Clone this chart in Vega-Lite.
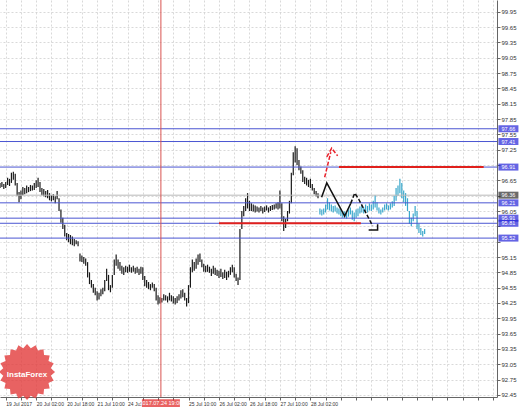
{
  "$schema": "https://vega.github.io/schema/vega-lite/v6.json",
  "width": 497,
  "height": 397,
  "autosize": "none",
  "padding": {"left": 0, "top": 0, "right": 22, "bottom": 10},
  "background": "white",
  "config": {
    "view": {"stroke": null},
    "font": "Liberation Sans",
    "axis": {"title": null, "labelOverlap": false, "labelBound": false, "labelFlush": false, "labelFont": "Liberation Sans", "labelFontSize": 6, "labelColor": "#333", "labelPadding": 1,
      "ticks": true, "tickSize": 3, "tickColor": "#666", "domainColor": "#666",
      "grid": true, "gridColor": "#cfcfcf", "gridDash": [2, 2], "gridWidth": 0.8}
  },
  "resolve": {"axis": {"x": "independent", "y": "independent"}},
  "datasets": {
    "bars": [
      {"i":0,"hi":96.60,"lo":96.50,"s":"h"},{"i":1,"hi":96.62,"lo":96.52,"s":"h"},{"i":2,"hi":96.58,"lo":96.48,"s":"h"},{"i":3,"hi":96.62,"lo":96.50,"s":"h"},{"i":4,"hi":96.70,"lo":96.56,"s":"h"},{"i":5,"hi":96.68,"lo":96.54,"s":"h"},{"i":6,"hi":96.80,"lo":96.60,"s":"h"},{"i":7,"hi":96.82,"lo":96.66,"s":"h"},{"i":8,"hi":96.78,"lo":96.55,"s":"h"},{"i":9,"hi":96.60,"lo":96.35,"s":"h"},
      {"i":10,"hi":96.42,"lo":96.22,"s":"h"},{"i":11,"hi":96.45,"lo":96.28,"s":"h"},{"i":12,"hi":96.52,"lo":96.36,"s":"h"},{"i":13,"hi":96.50,"lo":96.38,"s":"h"},{"i":14,"hi":96.55,"lo":96.40,"s":"h"},{"i":15,"hi":96.52,"lo":96.42,"s":"h"},{"i":16,"hi":96.56,"lo":96.44,"s":"h"},{"i":17,"hi":96.55,"lo":96.45,"s":"h"},{"i":18,"hi":96.60,"lo":96.46,"s":"h"},{"i":19,"hi":96.65,"lo":96.50,"s":"h"},
      {"i":20,"hi":96.70,"lo":96.52,"s":"h"},{"i":21,"hi":96.62,"lo":96.42,"s":"h"},{"i":22,"hi":96.50,"lo":96.36,"s":"h"},{"i":23,"hi":96.48,"lo":96.34,"s":"h"},{"i":24,"hi":96.44,"lo":96.32,"s":"h"},{"i":25,"hi":96.46,"lo":96.30,"s":"h"},{"i":26,"hi":96.40,"lo":96.26,"s":"h"},{"i":27,"hi":96.36,"lo":96.24,"s":"h"},{"i":28,"hi":96.38,"lo":96.26,"s":"h"},{"i":29,"hi":96.34,"lo":96.20,"s":"h"},
      {"i":30,"hi":96.44,"lo":96.28,"s":"h"},{"i":31,"hi":96.30,"lo":96.05,"s":"h"},{"i":32,"hi":96.08,"lo":95.82,"s":"h"},{"i":33,"hi":95.92,"lo":95.70,"s":"h"},{"i":34,"hi":95.78,"lo":95.55,"s":"h"},{"i":35,"hi":95.62,"lo":95.48,"s":"h"},{"i":36,"hi":95.60,"lo":95.44,"s":"h"},{"i":37,"hi":95.58,"lo":95.40,"s":"h"},{"i":38,"hi":95.55,"lo":95.38,"s":"h"},{"i":39,"hi":95.50,"lo":95.36,"s":"h"},
      {"i":40,"hi":95.48,"lo":95.40,"s":"h"},{"i":41,"hi":95.46,"lo":95.36,"s":"h"},{"i":42,"hi":95.22,"lo":95.06,"s":"h"},{"i":43,"hi":95.18,"lo":95.05,"s":"h"},{"i":44,"hi":95.15,"lo":95.02,"s":"h"},{"i":45,"hi":95.12,"lo":94.98,"s":"h"},{"i":46,"hi":95.05,"lo":94.75,"s":"h"},{"i":47,"hi":94.85,"lo":94.62,"s":"h"},{"i":48,"hi":94.70,"lo":94.55,"s":"h"},{"i":49,"hi":94.62,"lo":94.45,"s":"h"},
      {"i":50,"hi":94.55,"lo":94.40,"s":"h"},{"i":51,"hi":94.48,"lo":94.30,"s":"h"},{"i":52,"hi":94.45,"lo":94.32,"s":"h"},{"i":53,"hi":94.52,"lo":94.38,"s":"h"},{"i":54,"hi":94.55,"lo":94.42,"s":"h"},{"i":55,"hi":94.70,"lo":94.48,"s":"h"},{"i":56,"hi":94.92,"lo":94.68,"s":"h"},{"i":57,"hi":94.80,"lo":94.50,"s":"h"},{"i":58,"hi":94.60,"lo":94.46,"s":"h"},{"i":59,"hi":94.80,"lo":94.55,"s":"h"},
      {"i":60,"hi":95.10,"lo":94.80,"s":"h"},{"i":61,"hi":95.20,"lo":94.98,"s":"h"},{"i":62,"hi":95.10,"lo":94.92,"s":"h"},{"i":63,"hi":95.05,"lo":94.88,"s":"h"},{"i":64,"hi":94.98,"lo":94.82,"s":"h"},{"i":65,"hi":94.95,"lo":94.80,"s":"h"},{"i":66,"hi":94.98,"lo":94.85,"s":"h"},{"i":67,"hi":94.96,"lo":94.84,"s":"h"},{"i":68,"hi":95.00,"lo":94.86,"s":"h"},{"i":69,"hi":94.95,"lo":94.84,"s":"h"},
      {"i":70,"hi":94.98,"lo":94.86,"s":"h"},{"i":71,"hi":94.94,"lo":94.82,"s":"h"},{"i":72,"hi":94.96,"lo":94.84,"s":"h"},{"i":73,"hi":94.92,"lo":94.80,"s":"h"},{"i":74,"hi":94.96,"lo":94.82,"s":"h"},{"i":75,"hi":94.95,"lo":94.70,"s":"h"},{"i":76,"hi":94.78,"lo":94.58,"s":"h"},{"i":77,"hi":94.70,"lo":94.55,"s":"h"},{"i":78,"hi":94.66,"lo":94.52,"s":"h"},{"i":79,"hi":94.62,"lo":94.50,"s":"h"},
      {"i":80,"hi":94.65,"lo":94.55,"s":"h"},{"i":81,"hi":94.62,"lo":94.48,"s":"h"},{"i":82,"hi":94.55,"lo":94.30,"s":"h"},{"i":83,"hi":94.40,"lo":94.22,"s":"h"},{"i":84,"hi":94.36,"lo":94.24,"s":"h"},{"i":85,"hi":94.35,"lo":94.26,"s":"h"},{"i":86,"hi":94.42,"lo":94.30,"s":"h"},{"i":87,"hi":94.40,"lo":94.30,"s":"h"},{"i":88,"hi":94.38,"lo":94.26,"s":"h"},{"i":89,"hi":94.45,"lo":94.30,"s":"h"},
      {"i":90,"hi":94.40,"lo":94.28,"s":"h"},{"i":91,"hi":94.38,"lo":94.24,"s":"h"},{"i":92,"hi":94.35,"lo":94.22,"s":"h"},{"i":93,"hi":94.38,"lo":94.25,"s":"h"},{"i":94,"hi":94.42,"lo":94.30,"s":"h"},{"i":95,"hi":94.50,"lo":94.34,"s":"h"},{"i":96,"hi":94.52,"lo":94.36,"s":"h"},{"i":97,"hi":94.45,"lo":94.30,"s":"h"},{"i":98,"hi":94.35,"lo":94.18,"s":"h"},{"i":99,"hi":94.60,"lo":94.25,"s":"h"},
      {"i":100,"hi":94.95,"lo":94.55,"s":"h"},{"i":101,"hi":95.10,"lo":94.85,"s":"h"},{"i":102,"hi":95.05,"lo":94.88,"s":"h"},{"i":103,"hi":95.12,"lo":94.92,"s":"h"},{"i":104,"hi":95.20,"lo":95.00,"s":"h"},{"i":105,"hi":95.22,"lo":95.05,"s":"h"},{"i":106,"hi":95.10,"lo":94.95,"s":"h"},{"i":107,"hi":95.02,"lo":94.86,"s":"h"},{"i":108,"hi":94.98,"lo":94.85,"s":"h"},{"i":109,"hi":95.00,"lo":94.86,"s":"h"},
      {"i":110,"hi":94.96,"lo":94.84,"s":"h"},{"i":111,"hi":94.92,"lo":94.78,"s":"h"},{"i":112,"hi":94.98,"lo":94.82,"s":"h"},{"i":113,"hi":94.94,"lo":94.80,"s":"h"},{"i":114,"hi":94.90,"lo":94.78,"s":"h"},{"i":115,"hi":94.88,"lo":94.74,"s":"h"},{"i":116,"hi":94.92,"lo":94.76,"s":"h"},{"i":117,"hi":94.85,"lo":94.72,"s":"h"},{"i":118,"hi":94.90,"lo":94.74,"s":"h"},{"i":119,"hi":94.86,"lo":94.70,"s":"h"},
      {"i":120,"hi":94.88,"lo":94.75,"s":"h"},{"i":121,"hi":94.95,"lo":94.80,"s":"h"},{"i":122,"hi":95.00,"lo":94.85,"s":"h"},{"i":123,"hi":94.95,"lo":94.75,"s":"h"},{"i":124,"hi":94.82,"lo":94.68,"s":"h"},{"i":125,"hi":94.75,"lo":94.60,"s":"h"},{"i":126,"hi":95.70,"lo":94.70,"s":"h"},{"i":127,"hi":96.05,"lo":95.70,"s":"h"},{"i":128,"hi":96.15,"lo":95.95,"s":"h"},{"i":129,"hi":96.30,"lo":96.05,"s":"h"},
      {"i":130,"hi":96.40,"lo":96.10,"s":"h"},{"i":131,"hi":96.25,"lo":96.05,"s":"h"},{"i":132,"hi":96.20,"lo":96.05,"s":"h"},{"i":133,"hi":96.18,"lo":96.04,"s":"h"},{"i":134,"hi":96.16,"lo":96.02,"s":"h"},{"i":135,"hi":96.14,"lo":96.04,"s":"h"},{"i":136,"hi":96.12,"lo":96.02,"s":"h"},{"i":137,"hi":96.15,"lo":96.05,"s":"h"},{"i":138,"hi":96.12,"lo":96.00,"s":"h"},{"i":139,"hi":96.14,"lo":96.03,"s":"h"},
      {"i":140,"hi":96.16,"lo":96.06,"s":"h"},{"i":141,"hi":96.12,"lo":96.02,"s":"h"},{"i":142,"hi":96.15,"lo":96.05,"s":"h"},{"i":143,"hi":96.17,"lo":96.07,"s":"h"},{"i":144,"hi":96.18,"lo":96.08,"s":"h"},{"i":145,"hi":96.20,"lo":96.10,"s":"h"},{"i":146,"hi":96.22,"lo":96.08,"s":"h"},{"i":147,"hi":96.45,"lo":96.10,"s":"h"},{"i":148,"hi":96.20,"lo":95.85,"s":"h"},{"i":149,"hi":95.95,"lo":95.66,"s":"h"},
      {"i":150,"hi":95.90,"lo":95.72,"s":"h"},{"i":151,"hi":96.05,"lo":95.85,"s":"h"},{"i":152,"hi":96.25,"lo":96.00,"s":"h"},{"i":153,"hi":96.80,"lo":96.20,"s":"h"},{"i":154,"hi":97.20,"lo":96.75,"s":"h"},{"i":155,"hi":97.32,"lo":97.00,"s":"h"},{"i":156,"hi":97.28,"lo":96.95,"s":"h"},{"i":157,"hi":97.05,"lo":96.85,"s":"h"},{"i":158,"hi":96.92,"lo":96.78,"s":"h"},{"i":159,"hi":96.85,"lo":96.62,"s":"h"},
      {"i":160,"hi":96.72,"lo":96.58,"s":"h"},{"i":161,"hi":96.70,"lo":96.55,"s":"h"},{"i":162,"hi":96.66,"lo":96.52,"s":"h"},{"i":163,"hi":96.68,"lo":96.50,"s":"h"},{"i":164,"hi":96.58,"lo":96.45,"s":"h"},{"i":165,"hi":96.50,"lo":96.38,"s":"h"},{"i":166,"hi":96.44,"lo":96.34,"s":"h"},{"i":167,"hi":96.40,"lo":96.30,"s":"h"},
      {"i":168,"hi":96.10,"lo":95.98,"s":"p"},{"i":169,"hi":96.08,"lo":95.96,"s":"p"},
      {"i":170,"hi":96.10,"lo":95.98,"s":"p"},{"i":171,"hi":96.18,"lo":96.02,"s":"p"},{"i":172,"hi":96.30,"lo":96.08,"s":"p"},{"i":173,"hi":96.22,"lo":96.06,"s":"p"},{"i":174,"hi":96.18,"lo":96.04,"s":"p"},{"i":175,"hi":96.15,"lo":96.02,"s":"p"},{"i":176,"hi":96.16,"lo":96.04,"s":"p"},{"i":177,"hi":96.12,"lo":96.00,"s":"p"},{"i":178,"hi":96.10,"lo":95.98,"s":"p"},{"i":179,"hi":96.08,"lo":95.95,"s":"p"},
      {"i":180,"hi":96.05,"lo":95.92,"s":"p"},{"i":181,"hi":96.04,"lo":95.92,"s":"p"},{"i":182,"hi":96.02,"lo":95.90,"s":"p"},{"i":183,"hi":96.08,"lo":95.94,"s":"p"},{"i":184,"hi":96.12,"lo":95.98,"s":"p"},{"i":185,"hi":96.06,"lo":95.88,"s":"p"},{"i":186,"hi":96.02,"lo":95.85,"s":"p"},{"i":187,"hi":96.08,"lo":95.92,"s":"p"},{"i":188,"hi":96.10,"lo":95.95,"s":"p"},{"i":189,"hi":96.14,"lo":96.00,"s":"p"},
      {"i":190,"hi":96.16,"lo":96.02,"s":"p"},{"i":191,"hi":96.12,"lo":96.00,"s":"p"},{"i":192,"hi":96.18,"lo":96.04,"s":"p"},{"i":193,"hi":96.15,"lo":96.02,"s":"p"},{"i":194,"hi":96.20,"lo":96.06,"s":"p"},{"i":195,"hi":96.18,"lo":96.05,"s":"p"},{"i":196,"hi":96.25,"lo":96.08,"s":"p"},{"i":197,"hi":96.36,"lo":96.12,"s":"p"},{"i":198,"hi":96.22,"lo":96.06,"s":"p"},{"i":199,"hi":96.12,"lo":96.00,"s":"p"},
      {"i":200,"hi":96.08,"lo":95.98,"s":"p"},{"i":201,"hi":96.12,"lo":96.02,"s":"p"},{"i":202,"hi":96.18,"lo":96.06,"s":"p"},{"i":203,"hi":96.20,"lo":96.08,"s":"p"},{"i":204,"hi":96.16,"lo":96.06,"s":"p"},{"i":205,"hi":96.20,"lo":96.08,"s":"p"},{"i":206,"hi":96.24,"lo":96.12,"s":"p"},{"i":207,"hi":96.35,"lo":96.15,"s":"p"},{"i":208,"hi":96.50,"lo":96.25,"s":"p"},{"i":209,"hi":96.55,"lo":96.35,"s":"p"},
      {"i":210,"hi":96.68,"lo":96.40,"s":"p"},{"i":211,"hi":96.60,"lo":96.30,"s":"p"},{"i":212,"hi":96.45,"lo":96.22,"s":"p"},{"i":213,"hi":96.40,"lo":96.15,"s":"p"},{"i":214,"hi":96.30,"lo":96.05,"s":"p"},{"i":215,"hi":96.05,"lo":95.80,"s":"p"},{"i":216,"hi":95.92,"lo":95.75,"s":"p"},{"i":217,"hi":96.00,"lo":95.85,"s":"p"},{"i":218,"hi":96.15,"lo":95.95,"s":"p"},{"i":219,"hi":96.05,"lo":95.70,"s":"p"},
      {"i":220,"hi":95.80,"lo":95.62,"s":"p"},{"i":221,"hi":95.72,"lo":95.58,"s":"p"},{"i":222,"hi":95.66,"lo":95.55,"s":"p"},{"i":223,"hi":95.70,"lo":95.60,"s":"p"}
    ],
    "levels": [
      {"v":97.66,"t":"97.66"},{"v":97.41,"t":"97.41"},{"v":96.91,"t":"96.91"},{"v":96.21,"t":"96.21"},{"v":95.91,"t":"95.91"},{"v":95.81,"t":"95.81"},{"v":95.52,"t":"95.52"}
    ],
    "current": [{"v":96.36,"t":"96.36"}],
    "redlevels": [{"i":178,"i2":254,"v":96.91},{"i":115,"i2":189.5,"v":95.81}],
    "cursor": [{"i":84.5,"v":92.29,"t":"2017.07.24 19:00"}],
    "solid": [
      {"g":"a","o":1,"i":168.9,"v":96.32},{"g":"a","o":2,"i":171.6,"v":96.60},{"g":"a","o":3,"i":181.0,"v":95.95},{"g":"a","o":4,"i":184.2,"v":96.20},
      {"g":"b","o":1,"i":193.6,"v":95.68},{"g":"b","o":2,"i":198.3,"v":95.68},{"g":"b","o":3,"i":198.3,"v":95.79}
    ],
    "dashedk": [
      {"g":"c","o":1,"i":184.2,"v":96.20},{"g":"c","o":2,"i":186.3,"v":96.40},{"g":"c","o":3,"i":188.4,"v":96.28},{"g":"c","o":4,"i":195.7,"v":95.76}
    ],
    "dashedr": [
      {"g":"d","o":1,"i":170.5,"v":96.71},{"g":"d","o":2,"i":173.7,"v":97.20},
      {"g":"e","o":1,"i":171.6,"v":97.11},{"g":"e","o":2,"i":174.2,"v":97.28},{"g":"e","o":3,"i":177.3,"v":97.13}
    ],
    "logo": [{"i":14.2,"v":92.90,"t":"InstaForex"}]
  },
  "layer": [
    {
      "data": {"name": "bars"},
      "mark": {"type": "rule", "strokeWidth": 1.2},
      "encoding": {
        "x": {"field": "i", "type": "quantitative", "scale": {"domain": [0, 261], "nice": false, "zero": false},
          "axis": {"orient": "bottom", "labelOverlap": false, "labelFontSize": 5, "values": [3,11,19,27,35,43,51,59,67,75,83,91,99,107,115,123,131,139,147,155,163,171,179,187,195,203,211,219,227,235,243,251,259],
            "labelExpr": "(datum.value % 16 == 3 && datum.value <= 163) ? ['19 Jul 2017','20 Jul 02:00','20 Jul 18:00','21 Jul 10:00','24 Jul','','25 Jul 10:00','26 Jul 02:00','26 Jul 18:00','27 Jul 10:00','28 Jul 02:00'][(datum.value - 3) / 16] : ''",
            "labelAlign": "left"}},
        "y": {"field": "lo", "type": "quantitative", "scale": {"domain": [92.41, 100.18], "nice": false, "zero": false},
          "axis": {"orient": "right", "labelOverlap": false,
            "values": [92.45,92.75,93.05,93.35,93.65,93.95,94.25,94.55,94.85,95.15,95.45,95.75,96.05,96.35,96.65,96.95,97.25,97.55,97.85,98.15,98.45,98.75,99.05,99.35,99.65,99.95],
            "labelExpr": "indexof([96.95, 96.35, 95.75, 95.45], datum.value) >= 0 ? '' : format(datum.value, '.2f')"}},
        "y2": {"field": "hi"},
        "color": {"field": "s", "type": "nominal", "scale": {"domain": ["h", "p"], "range": ["#1a1a1a", "#3aa8cc"]}, "legend": null}
      }
    },
    {
      "data": {"name": "levels"},
      "mark": {"type": "rule", "color": "#4b56d2", "strokeWidth": 1},
      "encoding": {"y": {"field": "v", "type": "quantitative", "scale": {"domain": [92.41, 100.18], "nice": false, "zero": false}, "axis": null}}
    },
    {
      "data": {"name": "current"},
      "mark": {"type": "rule", "color": "#b8b8b8", "strokeWidth": 1},
      "encoding": {"y": {"field": "v", "type": "quantitative", "scale": {"domain": [92.41, 100.18], "nice": false, "zero": false}, "axis": null}}
    },
    {
      "data": {"name": "redlevels"},
      "mark": {"type": "rule", "color": "#e0201c", "strokeWidth": 2},
      "encoding": {
        "x": {"field": "i", "type": "quantitative", "scale": {"domain": [0, 261], "nice": false, "zero": false}, "axis": null},
        "x2": {"field": "i2"},
        "y": {"field": "v", "type": "quantitative", "scale": {"domain": [92.41, 100.18], "nice": false, "zero": false}, "axis": null}
      }
    },
    {
      "data": {"name": "cursor"},
      "mark": {"type": "rule", "color": "#d9534f", "strokeWidth": 1},
      "encoding": {"x": {"field": "i", "type": "quantitative", "scale": {"domain": [0, 261], "nice": false, "zero": false}, "axis": null}}
    },
    {
      "data": {"name": "solid"},
      "mark": {"type": "line", "color": "#111", "strokeWidth": 1.5},
      "encoding": {
        "x": {"field": "i", "type": "quantitative", "scale": {"domain": [0, 261], "nice": false, "zero": false}, "axis": null},
        "y": {"field": "v", "type": "quantitative", "scale": {"domain": [92.41, 100.18], "nice": false, "zero": false}, "axis": null},
        "detail": {"field": "g"},
        "order": {"field": "o"}
      }
    },
    {
      "data": {"name": "dashedk"},
      "mark": {"type": "line", "color": "#111", "strokeWidth": 1.5, "strokeDash": [4, 2]},
      "encoding": {
        "x": {"field": "i", "type": "quantitative", "scale": {"domain": [0, 261], "nice": false, "zero": false}, "axis": null},
        "y": {"field": "v", "type": "quantitative", "scale": {"domain": [92.41, 100.18], "nice": false, "zero": false}, "axis": null},
        "detail": {"field": "g"},
        "order": {"field": "o"}
      }
    },
    {
      "data": {"name": "dashedr"},
      "mark": {"type": "line", "color": "#e8202a", "strokeWidth": 1.5, "strokeDash": [4, 2]},
      "encoding": {
        "x": {"field": "i", "type": "quantitative", "scale": {"domain": [0, 261], "nice": false, "zero": false}, "axis": null},
        "y": {"field": "v", "type": "quantitative", "scale": {"domain": [92.41, 100.18], "nice": false, "zero": false}, "axis": null},
        "detail": {"field": "g"},
        "order": {"field": "o"}
      }
    },
    {
      "data": {"name": "levels"},
      "mark": {"type": "tick", "orient": "horizontal", "color": "#2222d8", "size": 20, "thickness": 7},
      "encoding": {
        "x": {"datum": 267, "type": "quantitative", "scale": {"domain": [0, 261], "nice": false, "zero": false}, "axis": null},
        "y": {"field": "v", "type": "quantitative", "scale": {"domain": [92.41, 100.18], "nice": false, "zero": false}, "axis": null}
      }
    },
    {
      "data": {"name": "levels"},
      "mark": {"type": "text", "color": "white", "fontSize": 5.5, "align": "center", "baseline": "middle"},
      "encoding": {
        "x": {"datum": 267, "type": "quantitative", "scale": {"domain": [0, 261], "nice": false, "zero": false}, "axis": null},
        "y": {"field": "v", "type": "quantitative", "scale": {"domain": [92.41, 100.18], "nice": false, "zero": false}, "axis": null},
        "text": {"field": "t"}
      }
    },
    {
      "data": {"name": "current"},
      "mark": {"type": "tick", "orient": "horizontal", "color": "#2b2b2b", "size": 20, "thickness": 7},
      "encoding": {
        "x": {"datum": 267, "type": "quantitative", "scale": {"domain": [0, 261], "nice": false, "zero": false}, "axis": null},
        "y": {"field": "v", "type": "quantitative", "scale": {"domain": [92.41, 100.18], "nice": false, "zero": false}, "axis": null}
      }
    },
    {
      "data": {"name": "current"},
      "mark": {"type": "text", "color": "white", "fontSize": 5.5, "align": "center", "baseline": "middle"},
      "encoding": {
        "x": {"datum": 267, "type": "quantitative", "scale": {"domain": [0, 261], "nice": false, "zero": false}, "axis": null},
        "y": {"field": "v", "type": "quantitative", "scale": {"domain": [92.41, 100.18], "nice": false, "zero": false}, "axis": null},
        "text": {"field": "t"}
      }
    },
    {
      "data": {"name": "cursor"},
      "mark": {"type": "tick", "orient": "horizontal", "color": "#e02020", "size": 38, "thickness": 8},
      "encoding": {
        "x": {"field": "i", "type": "quantitative", "scale": {"domain": [0, 261], "nice": false, "zero": false}, "axis": null},
        "y": {"field": "v", "type": "quantitative", "scale": {"domain": [92.41, 100.18], "nice": false, "zero": false}, "axis": null}
      }
    },
    {
      "data": {"name": "cursor"},
      "mark": {"type": "text", "color": "white", "fontSize": 5.5, "align": "center", "baseline": "middle"},
      "encoding": {
        "x": {"field": "i", "type": "quantitative", "scale": {"domain": [0, 261], "nice": false, "zero": false}, "axis": null},
        "y": {"field": "v", "type": "quantitative", "scale": {"domain": [92.41, 100.18], "nice": false, "zero": false}, "axis": null},
        "text": {"field": "t"}
      }
    },
    {
      "data": {"name": "logo"},
      "mark": {"type": "point", "filled": true, "color": "#e23b3b", "opacity": 0.8, "size": 3136,
        "shape": "M1,0L0.849,0.135L0.951,0.309L0.766,0.390L0.809,0.588L0.608,0.608L0.588,0.809L0.390,0.766L0.309,0.951L0.135,0.849L0,1L-0.135,0.849L-0.309,0.951L-0.390,0.766L-0.588,0.809L-0.608,0.608L-0.809,0.588L-0.766,0.390L-0.951,0.309L-0.849,0.135L-1,0L-0.849,-0.135L-0.951,-0.309L-0.766,-0.390L-0.809,-0.588L-0.608,-0.608L-0.588,-0.809L-0.390,-0.766L-0.309,-0.951L-0.135,-0.849L0,-1L0.135,-0.849L0.309,-0.951L0.390,-0.766L0.588,-0.809L0.608,-0.608L0.809,-0.588L0.766,-0.390L0.951,-0.309L0.849,-0.135Z"},
      "encoding": {
        "x": {"field": "i", "type": "quantitative", "scale": {"domain": [0, 261], "nice": false, "zero": false}, "axis": null},
        "y": {"field": "v", "type": "quantitative", "scale": {"domain": [92.41, 100.18], "nice": false, "zero": false}, "axis": null}
      }
    },
    {
      "data": {"name": "logo"},
      "mark": {"type": "text", "color": "white", "fontSize": 8, "fontWeight": "bold", "align": "center", "baseline": "middle", "dy": 3},
      "encoding": {
        "x": {"field": "i", "type": "quantitative", "scale": {"domain": [0, 261], "nice": false, "zero": false}, "axis": null},
        "y": {"field": "v", "type": "quantitative", "scale": {"domain": [92.41, 100.18], "nice": false, "zero": false}, "axis": null},
        "text": {"field": "t"}
      }
    }
  ]
}
